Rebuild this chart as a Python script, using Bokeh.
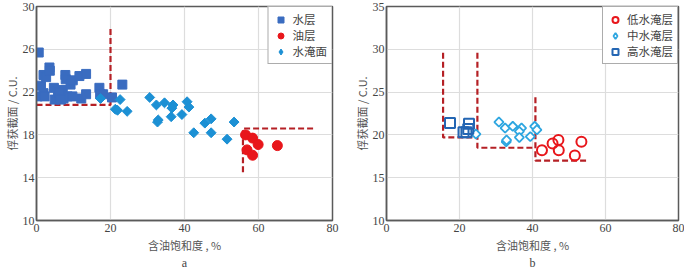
import math
from bokeh.plotting import figure
from bokeh.layouts import row
from bokeh.models import Legend, LegendItem, FixedTicker, LinearAxis
from bokeh.embed import file_html
from bokeh.resources import INLINE

# ---------------- data: panel a ----------------
water_x = [0.6, 0.3, 1.2, 1.9, 2.6, 3.5, 3.6, 1.9, 2.2, 4.7, 4.9, 5.8, 6.2, 7.1, 7.3, 7.8,
           7.9, 8.4, 9.2, 9.8, 9.7, 11.6, 12.1, 13.4, 13.4, 17.0, 17.2, 18.0, 20.4, 23.2,
           6.2, 6.6]
water_y = [25.7, 21.6, 22.6, 23.6, 23.4, 24.3, 24.0, 21.9, 21.6, 22.4, 21.3, 22.1, 21.6, 22.2,
           21.4, 23.6, 23.2, 21.6, 22.7, 23.1, 21.6, 23.5, 21.4, 23.7, 21.8, 22.4, 21.8, 21.8,
           21.5, 22.7, 22.0, 21.3]
oil_x = [56.5, 58.4, 59.9, 56.9, 58.4, 65.1]
oil_y = [18.0, 17.7, 17.1, 16.6, 16.1, 17.0]
flooded_x = [17.3, 21.3, 21.9, 22.6, 24.5, 30.6, 32.4, 32.7, 32.9, 34.6, 36.9, 36.6, 36.4,
             39.3, 40.7, 41.2, 42.5, 45.5, 47.2, 47.2, 51.5, 53.4]
flooded_y = [21.4, 20.4, 20.3, 21.3, 20.2, 21.5, 20.8, 19.2, 19.4, 21.0, 20.8, 20.5, 19.7,
             19.9, 21.1, 20.6, 18.2, 19.1, 19.5, 18.2, 17.6, 19.2]
# cutoff lines, panel a
cut_a1_x = [0, 20, 20]
cut_a1_y = [20.8, 20.8, 28.0]
cut_a2_x = [55.8, 55.8, 75]
cut_a2_y = [14.5, 18.6, 18.6]

# ---------------- data: panel b ----------------
low_x = [42.6, 45.5, 47.1, 47.2, 51.6, 53.4]
low_y = [18.2, 19.0, 19.4, 18.2, 17.6, 19.2]
mid_x = [24.5, 30.8, 32.5, 32.8, 32.9, 34.6, 37.0, 36.4, 36.4, 39.4, 40.6, 41.2]
mid_y = [20.1, 21.5, 20.8, 19.2, 19.4, 21.0, 20.8, 20.4, 19.7, 19.8, 21.0, 20.6]
high_x = [17.4, 22.6, 22.4, 21.1, 21.9]
high_y = [21.4, 21.3, 20.7, 20.3, 20.3]
# cutoff lines, panel b
cut_b1_x = [15.5, 15.5, 24.9]
cut_b1_y = [29.6, 19.7, 19.7]
cut_b2_x = [24.9, 24.9, 40.8]
cut_b2_y = [29.6, 18.5, 18.5]
cut_b3_x = [40.8, 40.8, 55.3]
cut_b3_y = [24.4, 17.0, 17.0]

x_ticks = [0, 20, 40, 60, 80]
y_ticks_a = [10, 14, 18, 22, 26, 30]
y_ticks_b = [10, 15, 20, 25, 30, 35]
x_title = "含油饱和度 , %"
y_title = "俘获截面 / C.U."

NUM_FONT = "Liberation Serif"
CJK_FONT = "Noto Sans CJK SC"
AX = "#5a5a5a"
RED_DASH = "#b52025"
DIAMOND_ANGLE = math.pi / 4


def make_fig(width, yr, yticks, letter, border_right):
    p = figure(width=width, height=272, x_range=(0, 80), y_range=yr,
               output_backend="svg", toolbar_location=None,
               min_border_top=6, min_border_right=border_right, min_border_left=0,
               min_border_bottom=0)
    p.background_fill_color = "white"
    p.border_fill_color = "white"
    p.outline_line_color = AX
    p.outline_line_width = 1.5
    p.xaxis.ticker = FixedTicker(ticks=x_ticks)
    p.yaxis.ticker = FixedTicker(ticks=yticks)
    for ax in (p.xaxis[0], p.yaxis[0]):
        ax.axis_line_color = AX
        ax.axis_line_width = 1.5
        ax.major_tick_line_color = None
        ax.minor_tick_line_color = None
        ax.major_tick_out = 0
        ax.major_tick_in = 0
        ax.major_label_text_font = NUM_FONT
        ax.major_label_text_font_size = "12px"
        ax.major_label_text_color = "#444444"
        ax.axis_label_text_font = CJK_FONT
        ax.axis_label_text_font_size = "11px"
        ax.axis_label_text_font_style = "normal"
        ax.axis_label_text_color = "#555555"
    p.xaxis.axis_label = x_title
    p.yaxis.axis_label = y_title
    p.xaxis.major_label_standoff = 3
    p.xaxis.axis_label_standoff = 2
    p.yaxis.major_label_standoff = 2
    p.yaxis.axis_label_standoff = 0
    p.xgrid.ticker = FixedTicker(ticks=x_ticks)
    p.ygrid.ticker = FixedTicker(ticks=yticks)
    p.grid.grid_line_color = "#dddddd"
    p.grid.grid_line_width = 1.2
    lab = LinearAxis(ticker=FixedTicker(ticks=[]), axis_line_color=None,
                     major_tick_line_color=None, minor_tick_line_color=None,
                     major_tick_out=0, major_tick_in=0, major_label_standoff=0,
                     axis_label=letter, axis_label_standoff=0,
                     axis_label_text_font=NUM_FONT, axis_label_text_font_size="12px",
                     axis_label_text_font_style="normal", axis_label_text_color="#444444")
    p.add_layout(lab, "below")
    return p


def diamonds(p, xs, ys, size, fill, line, lw):
    # legend proxy: a narrow diamond marker hidden beneath the true diamonds
    proxy = p.scatter(x=xs, y=ys, marker="diamond", size=size * 1.1,
                      fill_color=fill if fill else "white", line_color=line,
                      line_width=lw)
    # rotated squares drawn in screen units (true 45-degree diamonds)
    p.rect(x=xs, y=ys, width=size, height=size, width_units="screen",
           height_units="screen", angle=DIAMOND_ANGLE,
           fill_color=fill if fill else "white", line_color=line, line_width=lw)
    return proxy


# ---------------- panel a ----------------
p1 = make_fig(350, (10, 30), y_ticks_a, "a", 18)
for cx, cy in ((cut_a1_x, cut_a1_y), (cut_a2_x, cut_a2_y)):
    p1.line(cx, cy, line_color=RED_DASH, line_width=2.2, line_dash="6 3")
r_w = p1.scatter(water_x, water_y, marker="square", size=9, fill_color="#3a6cc0",
                 line_color="#3a6cc0")
r_o = p1.scatter(oil_x, oil_y, marker="circle", size=10, fill_color="#e8161b",
                 line_color="#e8161b")
r_f = diamonds(p1, flooded_x, flooded_y, 7, "#1c90d4", "#1c90d4", 1)
leg1 = Legend(items=[LegendItem(label="水层", renderers=[r_w]),
                     LegendItem(label="油层", renderers=[r_o]),
                     LegendItem(label="水淹面", renderers=[r_f])],
              location="top_right")
p1.add_layout(leg1)

# ---------------- panel b ----------------
p2 = make_fig(334, (10, 35), y_ticks_b, "b", 6)
for cx, cy in ((cut_b1_x, cut_b1_y), (cut_b2_x, cut_b2_y), (cut_b3_x, cut_b3_y)):
    p2.line(cx, cy, line_color=RED_DASH, line_width=2.2, line_dash="6 3")
r_l = p2.scatter(low_x, low_y, marker="circle", size=10, fill_color=None,
                 line_color="#e8161b", line_width=2)
r_m = diamonds(p2, mid_x, mid_y, 6.5, None, "#2ea6e0", 1.8)
r_h = p2.scatter(high_x, high_y, marker="square", size=10, fill_color=None,
                 line_color="#2466b3", line_width=2)
leg2 = Legend(items=[LegendItem(label="低水淹层", renderers=[r_l]),
                     LegendItem(label="中水淹层", renderers=[r_m]),
                     LegendItem(label="高水淹层", renderers=[r_h])],
              location="top_right")
p2.add_layout(leg2)

for lg in (leg1, leg2):
    lg.margin = 0
    lg.padding = 4
    lg.spacing = 0
    lg.label_height = 15
    lg.glyph_height = 15
    lg.glyph_width = 16
    lg.label_standoff = 4
    lg.label_text_font = CJK_FONT
    lg.label_text_font_size = "11.5px"
    lg.label_text_color = "#444444"
    lg.border_line_color = AX
    lg.border_line_width = 1.5
    lg.background_fill_alpha = 1

layout = row(p1, p2)
open("out.html", "w").write(file_html(layout, INLINE))
